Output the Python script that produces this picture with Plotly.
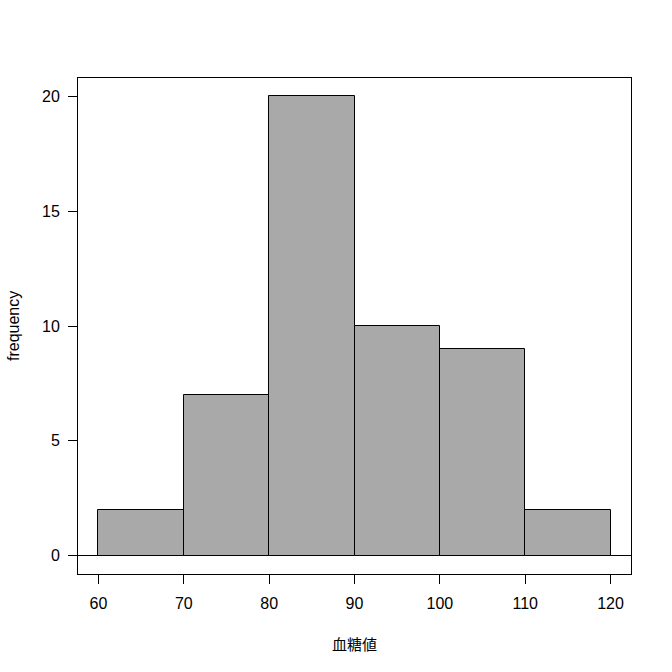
import plotly.graph_objects as go

bin_left = [60, 70, 80, 90, 100, 110]
bin_width = 10
counts = [2, 7, 20, 10, 9, 2]
x_ticks = [60, 70, 80, 90, 100, 110, 120]
y_ticks = [0, 5, 10, 15, 20]
x_label = "血糖値"
y_label = "frequency"

mids = [b + bin_width / 2 for b in bin_left]

fig = go.Figure(go.Bar(
    x=mids, y=counts, width=[bin_width] * len(counts),
    marker=dict(color="#A9A9A9", line=dict(color="black", width=1)),
    hoverinfo="skip",
))

W, H = 672, 672
L, R, T, B = 78, 41, 78, 98
fig.update_layout(
    width=W, height=H,
    margin=dict(l=L, r=R, t=T, b=B),
    plot_bgcolor="white", paper_bgcolor="white",
    showlegend=False, bargap=0,
    font=dict(family="Liberation Sans, Arial", size=16, color="black"),
)
fig.update_xaxes(
    range=[57.6, 122.4], tickvals=x_ticks, ticktext=[str(v) for v in x_ticks],
    showgrid=False, zeroline=False, showline=True, linecolor="black", linewidth=1,
    mirror=True, ticks="outside", ticklen=9, tickcolor="black", tickwidth=1,
    ticklabelstandoff=6,
)
fig.update_yaxes(
    range=[-0.8, 20.8], tickvals=y_ticks, ticktext=[str(v) for v in y_ticks],
    showgrid=False, zeroline=True, zerolinecolor="black", zerolinewidth=1,
    showline=True, linecolor="black", linewidth=1,
    mirror=True, ticks="outside", ticklen=9, tickcolor="black", tickwidth=1,
    ticklabelstandoff=5,
)
pw, ph = W - L - R, H - T - B
fig.add_annotation(
    text=x_label, xref="paper", yref="paper",
    x=0.5, y=(574 - 643) / ph, xanchor="center", yanchor="middle",
    showarrow=False, font=dict(family="Noto Sans CJK JP", size=15),
)
fig.add_annotation(
    text=y_label, xref="paper", yref="paper",
    x=(13 - L) / pw, y=0.5, xanchor="center", yanchor="middle",
    textangle=-90, showarrow=False, font=dict(family="Liberation Sans, Arial", size=16),
)
fig.write_html(
    "out.html",
    config={"displayModeBar": False},
    post_script="document.body.style.margin='0';document.body.style.overflow='hidden';",
)
